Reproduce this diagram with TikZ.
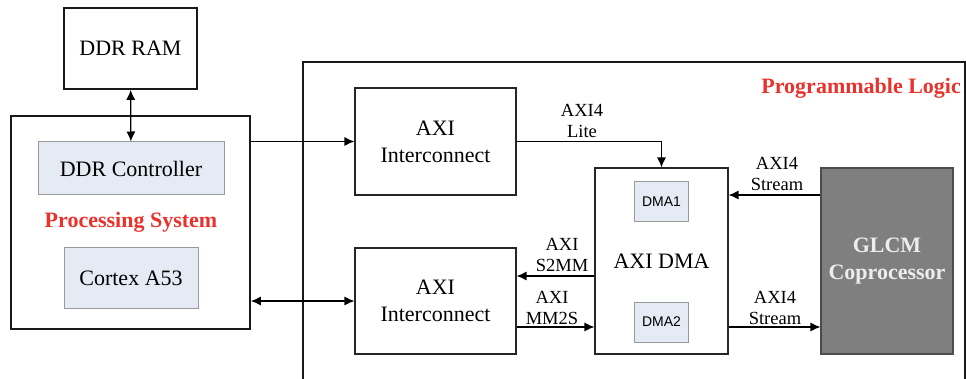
\documentclass[tikz,border=0pt]{standalone}
\usepackage{fontspec}
\setmainfont{Liberation Serif}
\newfontfamily\dmafont{Liberation Sans}
\usetikzlibrary{arrows.meta,positioning}

\definecolor{subfill}{HTML}{E4EBF4}
\definecolor{titlered}{HTML}{E8322B}
\definecolor{glcmgray}{HTML}{7F7F7F}

\tikzset{
  heavybox/.style={draw=black!90, line width=1.6pt, align=center, inner sep=0pt,
    font=\fontsize{22}{27}\selectfont},
  blk/.style={draw=black!85, line width=1.1pt, fill=white, align=center, inner sep=0pt,
    font=\fontsize{22}{27}\selectfont},
  sub/.style={draw=black!40, line width=1pt, fill=subfill, align=center, inner sep=0pt,
    font=\fontsize{22}{27}\selectfont},
  dmabox/.style={sub, minimum width=54pt, minimum height=40pt, font=\dmafont\fontsize{14}{16}\selectfont},
  title/.style={text=titlered, inner sep=0pt, font=\bfseries\fontsize{22}{27}\selectfont},
  lbl/.style={align=center, inner sep=0pt, anchor=south, font=\fontsize{18.5}{21.5}\selectfont},
  arr/.style={-{Latex[length=10pt,width=9pt]}, line width=1.2pt},
  biarr/.style={{Latex[length=10pt,width=9pt]}-{Latex[length=10pt,width=9pt]}, line width=1.2pt},
}

\begin{document}
\begin{tikzpicture}[x=1pt,y=-1pt]
  \useasboundingbox (0,0) rectangle (966,379);

  % processing system side
  \node[heavybox, minimum width=133pt, minimum height=81pt] (ddrram) at (130.5,48.5) {DDR RAM};
  \node[heavybox, minimum width=239pt, minimum height=213pt] (ps) at (130.5,222.5) {};
  \node[sub, minimum width=186pt, minimum height=53pt] (ddrctrl) at (131,168.5) {DDR Controller};
  \node[title] (pstitle) at (131,222) {Processing System};
  \node[sub, minimum width=134pt, minimum height=60pt] (cortex) at (131,278) {Cortex A53};

  % programmable logic frame
  \coordinate (plsw) at (303,379);
  \coordinate (plne) at (965,62);
  \draw[line width=1.5pt, black!90] (plsw) |- (plne) -- (plne |- plsw);
  \node[title, anchor=east] (pltitle) at (961,88) {Programmable Logic};

  \node[blk, minimum width=161pt, minimum height=107pt] (axi1) at (435.5,141.5) {AXI\\Interconnect};
  \node[blk, minimum width=161pt, minimum height=106pt] (axi2) at (435.5,301) {AXI\\Interconnect};
  \node[blk, minimum width=133pt, minimum height=186pt] (dma) at (661.5,261) {AXI DMA};
  \node[dmabox, below=14pt of dma.north] (dma1) {DMA1};
  \node[dmabox, above=12pt of dma.south] (dma2) {DMA2};
  \node[blk, draw=black!70, fill=glcmgray, text=black!7, font=\bfseries\fontsize{22}{27}\selectfont,
    minimum width=132pt, minimum height=186pt] (glcm) at (887,261) {GLCM\\Coprocessor};

  % connections
  \draw[biarr] (ddrram) -- (ddrctrl);
  \draw[arr] (ps.east |- axi1.west) -- (axi1.west);
  \draw[biarr] (ps.east |- axi2.west) -- (axi2.west);
  \draw[arr] (axi1.east) -| (dma.north);
  \draw[arr] ([yshift=-15pt]dma.west) -- ([yshift=-15pt]dma.west -| axi2.east);
  \draw[arr] ([yshift=-26pt]axi2.east) -- ([yshift=-26pt]axi2.east -| dma.west);
  \draw[arr] ([yshift=66pt]glcm.west) -- ([yshift=66pt]glcm.west -| dma.east);
  \draw[arr] ([yshift=-66pt]dma.east) -- ([yshift=-66pt]dma.east -| glcm.west);

  \node[lbl] (litelbl) at (582,138) {AXI4\\Lite};
  \node[lbl] (s2mmlbl) at (562,272) {AXI\\S2MM};
  \node[lbl] (mm2slbl) at (552,325) {AXI\\MM2S};
  \node[lbl] (instream) at (777,191) {AXI4\\Stream};
  \node[lbl] (outstream) at (775,325) {AXI4\\Stream};
\end{tikzpicture}
\end{document}
